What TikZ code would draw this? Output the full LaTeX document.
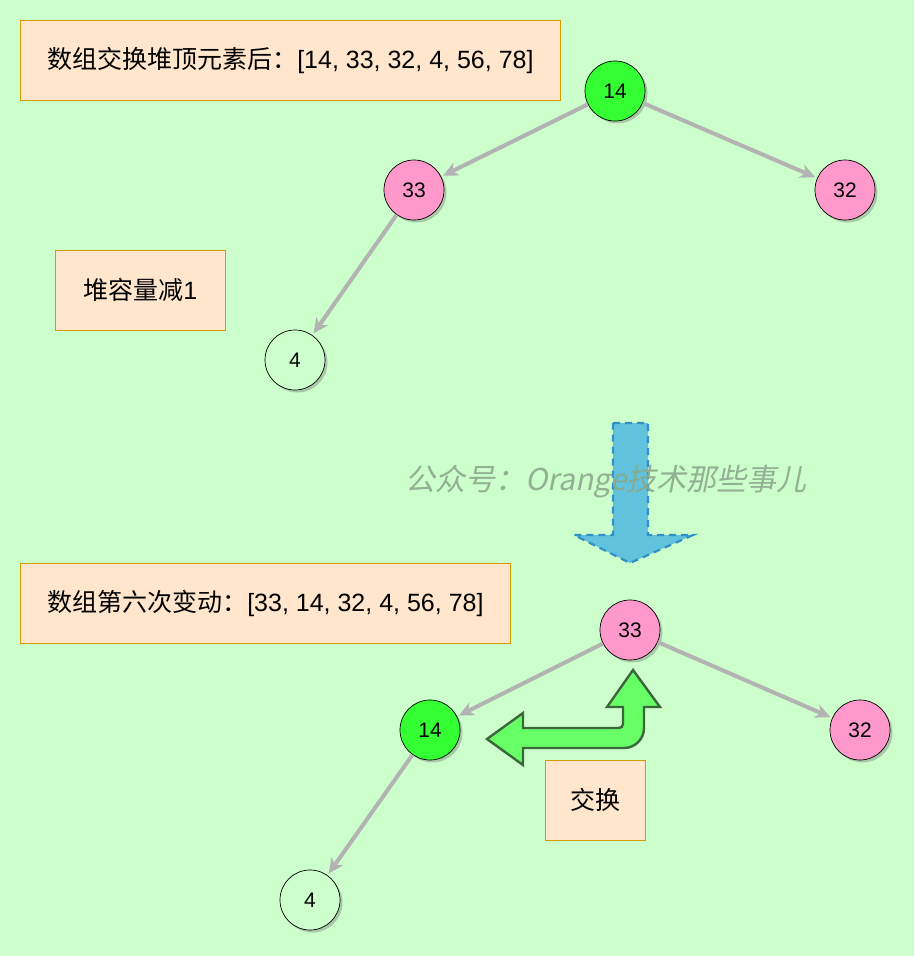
\documentclass[tikz,border=0pt]{standalone}
\usepackage{fontspec}
\setmainfont{Liberation Sans}
\newfontfamily\cjk{Noto Sans CJK SC}
\newfontfamily\wmfont{Noto Sans CJK SC}[FakeSlant=0.2]
\usetikzlibrary{arrows.meta,shadows}
\definecolor{bg}{HTML}{CCFFCC}
\definecolor{boxfill}{HTML}{FFE6CC}
\definecolor{boxdraw}{HTML}{D79B00}
\definecolor{greennode}{HTML}{33FF33}
\definecolor{pinknode}{HTML}{FF99CC}
\definecolor{edgegray}{HTML}{B3B3B3}
\definecolor{bluefill}{HTML}{60C2DC}
\definecolor{bluedraw}{HTML}{3090C8}
\definecolor{arrowfill}{HTML}{66FF66}
\definecolor{arrowdraw}{HTML}{3D663D}
\definecolor{wmcol}{HTML}{8CA88C}
\tikzset{
  infobox/.style={draw=boxdraw, fill=boxfill, line width=0.8pt, font=\fontsize{25}{29}\selectfont, inner sep=0pt, anchor=north west},
  heapnode/.style={circle, draw=black, line width=0.7pt, minimum size=60pt, inner sep=0pt, font=\fontsize{21}{23}\selectfont,
    drop shadow={shadow xshift=2.5pt, shadow yshift=-2.5pt, opacity=0.35, fill=black!60}},
  gnode/.style={heapnode, fill=greennode},
  pnode/.style={heapnode, fill=pinknode},
  wnode/.style={heapnode, fill=bg},
  heapedge/.style={draw=edgegray, line width=4pt, -{Stealth[length=15pt,width=14pt,inset=4.5pt]}, shorten >=2pt},
}
\begin{document}
\begin{tikzpicture}[x=1pt,y=-1pt]
\fill[bg] (0,0) rectangle (914,956);
\useasboundingbox (0,0) rectangle (914,956);

% top boxes
\node[infobox, minimum width=540pt, minimum height=80pt] (box1) at (20,20) {{\cjk 数组交换堆顶元素后：}[14, 33, 32, 4, 56, 78]};
\node[infobox, minimum width=170pt, minimum height=80pt] (box2) at (55,250) {{\cjk 堆容量减}1};

% top tree
\node[gnode] (t14) at (615,91) {14};
\node[pnode] (t33) at (414,190) {33};
\node[pnode] (t32) at (845,190) {32};
\node[wnode] (t4) at (295,360) {4};
\draw[heapedge] (t14) -- (t33);
\draw[heapedge] (t14) -- (t32);
\draw[heapedge] (t33) -- (t4);

% blue down arrow
\draw[fill=bluefill, draw=bluedraw, line width=2.2pt, dash pattern=on 7pt off 5pt, line join=miter]
  (613,423) -- (648,423) -- (648,535) -- (693,535) -- (630,563) -- (574,535) -- (613,535) -- cycle;

% watermark
\node[font=\wmfont\fontsize{30}{34}\selectfont, text=wmcol, text opacity=0.9, inner sep=0pt] (wm) at (606,482) {公众号：Orange技术那些事儿};

% bottom boxes
\node[infobox, minimum width=490pt, minimum height=80pt] (box3) at (20,563) {{\cjk 数组第六次变动：}[33, 14, 32, 4, 56, 78]};
\node[infobox, minimum width=100pt, minimum height=80pt] (box4) at (545,760) {{\cjk 交换}};

% bottom tree
\node[pnode] (b33) at (630,630) {33};
\node[gnode] (b14) at (430,730) {14};
\node[pnode] (b32) at (860,730) {32};
\node[wnode] (b4) at (310,900) {4};
\draw[heapedge] (b33) -- (b14);
\draw[heapedge] (b33) -- (b32);
\draw[heapedge] (b14) -- (b4);

% green bent swap arrow
\draw[fill=arrowfill, draw=arrowdraw, line width=2.4pt, line join=miter]
  (487,739) -- (523,713) -- (523,728) [rounded corners=4pt] -- (623,728) [sharp corners] -- (623,707)
  -- (607,707) -- (633,670) -- (660,707) -- (644,707) [rounded corners=20pt] -- (644,748) [sharp corners]
  -- (523,748) -- (523,765) -- cycle;
\end{tikzpicture}
\end{document}
